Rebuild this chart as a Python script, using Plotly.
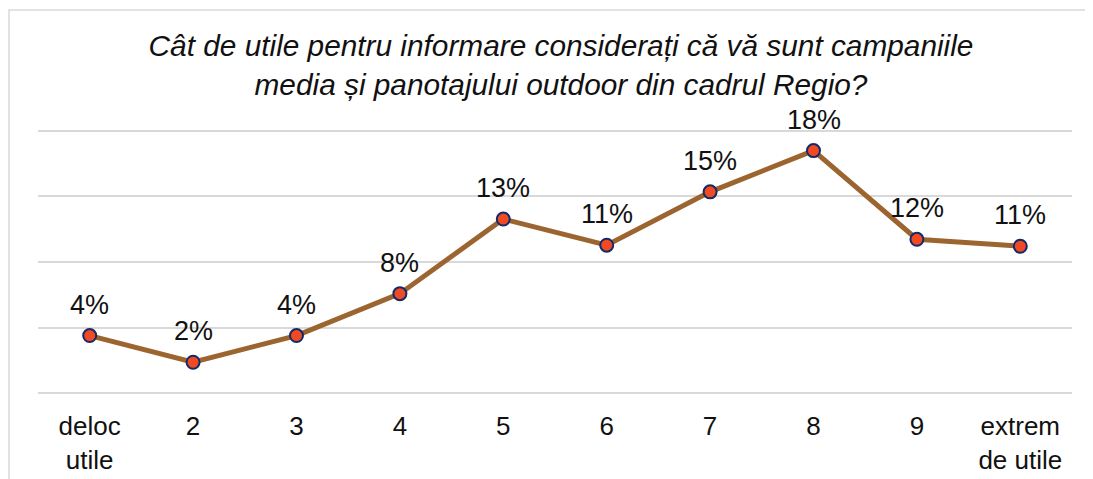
import plotly.graph_objects as go

categories = ["deloc<br>utile", "2", "3", "4", "5", "6", "7", "8", "9", "extrem<br>de utile"]
values = [4.40, 2.37, 4.40, 7.59, 13.27, 11.28, 15.34, 18.48, 11.73, 11.20]
labels = [f"{v:.0f}%" for v in values]
grid_vals = [0, 5, 10, 15, 20]

title_text = ("Cât de utile pentru informare considerați că vă sunt campaniile<br>"
              "media și panotajului outdoor din cadrul Regio?")

W, H = 1093, 479
OFF = 8  # page body margin shifts the figure
font = "Liberation Sans, Arial, sans-serif"

# plot area in page pixels (where 0% and 20% gridlines sit)
left, right, top, bottom = 38, 1072, 130.5, 392.7
ymin, ymax = 0, 20
pad = 0.2  # keep edge gridlines inside the plot area
ppu = (bottom - top) / (ymax - ymin)
pad_px = pad * ppu

m_l = left - OFF
m_r = W - (right - OFF)
m_t = top - OFF - pad_px
m_b = H - bottom - pad_px
pw = right - left
ph = (bottom - top) + 2 * pad_px
plot_top = top - pad_px

fig = go.Figure()
fig.add_trace(go.Scatter(
    x=list(range(len(categories))),
    y=values,
    mode="lines+markers",
    line=dict(color="#9C6530", width=5),
    marker=dict(size=13, color="#F04A23", line=dict(color="#12296A", width=2)),
    cliponaxis=False,
    hoverinfo="skip",
))

for i, (v, t) in enumerate(zip(values, labels)):
    fig.add_annotation(
        x=i, y=v, text=t, showarrow=False,
        xanchor="center", yanchor="bottom", yshift=14,
        font=dict(family=font, size=27, color="#111111"),
    )

fig.update_layout(
    width=W, height=H,
    autosize=False,
    paper_bgcolor="white",
    plot_bgcolor="white",
    showlegend=False,
    margin=dict(l=m_l, r=m_r, t=m_t, b=m_b),
    title=dict(
        text=title_text,
        font=dict(family=font, size=29.8, color="#111111", style="italic"),
        x=(561 - OFF) / W, xanchor="center", xref="container",
        y=1 - 48 / H, yanchor="top", yref="container",
    ),
    xaxis=dict(
        range=[-0.5, len(categories) - 0.5],
        tickvals=list(range(len(categories))),
        ticktext=categories,
        showgrid=False, zeroline=False, showline=False,
        ticks="outside", ticklen=7, tickcolor="rgba(0,0,0,0)",
        tickfont=dict(family=font, size=26, color="#111111"),
    ),
    yaxis=dict(
        range=[ymin - pad, ymax + pad],
        tickvals=grid_vals,
        showticklabels=False,
        showgrid=True, gridcolor="#D9D9D9", gridwidth=1.5,
        zeroline=False, showline=False,
    ),
    shapes=[dict(
        type="rect", xref="paper", yref="paper",
        x0=(9 - left) / pw, x1=1.1, y0=-0.6, y1=1 + (plot_top - 10) / ph,
        line=dict(color="#D9D9D9", width=1.5),
        layer="below",
    )],
)

fig.write_html("out.html")
